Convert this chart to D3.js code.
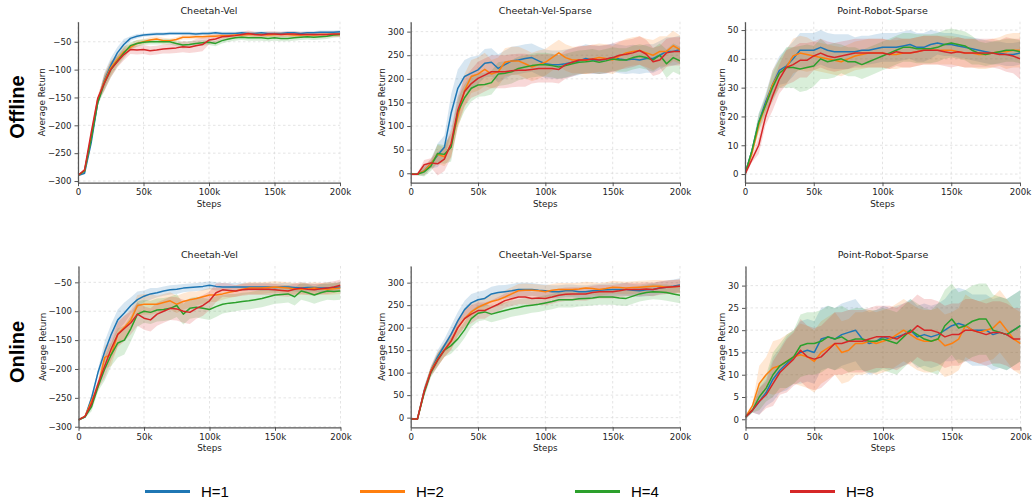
<!DOCTYPE html>
<html>
<head>
<meta charset="utf-8">
<script src="https://cdn.jsdelivr.net/npm/d3@7"></script>
<style>
  body { margin: 0; background: #fff; }
  svg { display: block; font-family: "DejaVu Sans", sans-serif; }
</style>
</head>
<body>
<svg id="chart" width="1032" height="501"></svg>
<script>
// series labels and colours
var seriesNames = ["H=1", "H=2", "H=4", "H=8"];
var colors = ["#1f77b4", "#ff7f0e", "#2ca02c", "#d62728"];

// x: training steps, one value every 5k (41 points); spreads are given every 10k
var steps = d3.range(0, 200001, 5000);
var xTicks = [0, 50000, 100000, 150000, 200000];

// ---- Offline / Cheetah-Vel (mean, order H=1,2,4,8)
var offVelMean = [
  [-290,-286,-232,-160,-120,-93,-70,-55,-44,-40,-38,-37,-36,-36,-35,-35,-35,-35,-36,-35,-35,-34,-35,-35,-35,-34,-35,-35,-34,-35,-35,-35,-34,-34,-35,-34,-34,-33,-33,-33,-32],
  [-290,-282,-222,-155,-122,-97,-82,-68,-60,-53,-50,-47,-45,-48,-48,-46,-42,-42,-41,-41,-40,-40,-39,-39,-38,-38,-37,-37,-37,-38,-37,-37,-37,-38,-38,-37,-38,-37,-37,-37,-37],
  [-290,-282,-225,-160,-125,-100,-85,-70,-57,-53,-51,-50,-50,-50,-50,-53,-56,-55,-53,-52,-51,-53,-48,-45,-43,-42,-43,-43,-43,-44,-43,-44,-44,-43,-42,-41,-42,-41,-40,-38,-37],
  [-290,-280,-214,-152,-125,-100,-86,-73,-64,-65,-64,-66,-65,-63,-62,-61,-59,-60,-57,-55,-47,-45,-41,-40,-39,-37,-35,-37,-38,-36,-36,-37,-36,-36,-37,-37,-37,-37,-37,-36,-36]
];
var offVelSpread = [
  [2,4,14,10,4,3,3,3,3,3,3,3,3,3,3,3,3,3,3,3,3],
  [2,5,14,10,6,5,5,4,4,4,4,4,4,4,4,4,4,4,4,4,4],
  [2,5,14,10,6,5,5,5,6,5,5,5,5,5,5,5,5,5,5,5,5],
  [2,5,14,10,8,8,8,9,10,12,8,6,5,5,5,5,5,5,5,5,5]
];

// ---- Offline / Cheetah-Vel-Sparse
var offSparseMean = [
  [-2,-2,5,20,38,55,127,180,205,212,219,233,235,222,230,238,240,243,245,238,232,230,230,232,235,238,243,240,240,241,245,242,240,242,240,243,243,250,258,258,262],
  [-2,-2,5,20,40,35,60,120,175,205,210,220,210,215,235,238,238,232,225,230,235,245,255,245,240,240,240,242,245,243,240,248,255,258,260,255,250,258,258,270,262],
  [-2,-2,3,15,42,40,55,130,160,180,187,188,192,210,212,215,222,225,228,230,230,228,225,228,232,235,236,238,235,238,242,240,240,245,248,245,240,250,232,245,238],
  [-2,-2,18,22,20,30,63,134,173,190,201,208,215,215,215,217,218,218,220,222,222,222,220,230,235,240,240,242,240,242,245,250,252,255,260,252,236,240,255,258,258]
];
var offSparseSpread = [
  [2,10,25,40,35,30,30,30,30,30,30,30,30,30,30,30,30,30,30,30,30],
  [2,10,20,25,35,35,30,30,30,30,28,28,28,30,30,30,30,30,32,32,30],
  [2,10,20,30,28,25,25,25,25,25,25,25,25,25,25,25,25,25,25,30,30],
  [2,10,25,30,30,35,35,35,35,30,30,30,30,30,30,30,30,30,30,30,30]
];

// ---- Offline / Point-Robot-Sparse
var offPointMean = [
  [0,8,18,25,31,36,37.5,40,43,43,43,44,43,42.5,42.5,42.5,42.5,43,43,43.5,44,44,44,44.5,45,44,44,45,45.5,45,45,44.5,44,43.5,43,42.5,42,42,41.5,41.5,42],
  [0,7,17,24,31,35,37,41,42,41.5,41,40.5,40,39.5,39,40,41,41.5,42,42,42,41.5,41.5,42,42,42.5,43,43,43,43,43,42.5,42,42,41.5,41.5,42,42.5,42.5,43,43],
  [0,8,18,24,30,35,37,37,36.5,37,37.5,40,39,39.5,40,39,39,38,39,40,41,42,43,44,44,43.5,43.5,43.5,44,45,45.5,45,44.5,43,42,41.5,42,42.5,43,43,42.5],
  [0,5,10,20,27,33,37,38,39.5,39.5,41,42,41,40.5,41,41.5,42,42,42,42,42,41.5,42.5,42,42,42.5,43,43,43,42.5,42,42.5,42,42,42,42,42,41.5,41.5,41,40]
];
var offPointSpread = [
  [1,3,5,6,6,6,6,6,5,5,5,5,5,5,4,4,4,4,4,4,4],
  [1,3,5,6,6,5,5,5,5,5,5,5,5,5,5,5,5,5,5,6,6],
  [1,3,5,7,8,7,6,5,5,5,5,5,5,5,5,5,5,4,4,4,4],
  [1,3,5,6,6,5,5,5,5,5,5,5,5,5,5,5,5,5,5,6,7]
];

// ---- Online / Cheetah-Vel
var onVelMean = [
  [-288,-283,-250,-205,-170,-140,-115,-103,-90,-80,-74,-70,-68,-65,-63,-62,-60,-59,-58,-57,-55,-57,-58,-58,-58,-58,-58,-58,-58,-58,-59,-58,-58,-59,-60,-59,-59,-60,-60,-59,-58],
  [-288,-282,-255,-230,-180,-175,-140,-128,-115,-90,-88,-88,-88,-85,-82,-88,-83,-80,-78,-75,-72,-72,-70,-67,-65,-62,-60,-60,-60,-59,-58,-59,-60,-61,-62,-61,-60,-61,-62,-61,-60],
  [-288,-283,-265,-230,-200,-175,-155,-150,-130,-105,-100,-102,-98,-97,-95,-90,-105,-95,-93,-95,-97,-92,-88,-86,-85,-83,-82,-80,-78,-75,-72,-71,-70,-75,-65,-68,-72,-68,-65,-66,-65],
  [-288,-282,-260,-225,-195,-165,-140,-130,-120,-105,-112,-115,-105,-100,-95,-96,-100,-102,-95,-90,-82,-68,-63,-64,-65,-63,-62,-62,-62,-62,-63,-64,-65,-62,-60,-62,-63,-61,-60,-58,-55]
];
var onVelSpread = [
  [2,6,18,18,14,10,8,8,7,7,7,7,7,7,7,7,7,7,7,7,8],
  [2,8,20,20,18,18,15,15,14,12,12,10,10,10,10,10,10,10,10,10,10],
  [2,8,20,25,22,20,20,20,18,18,18,16,15,15,15,15,15,15,15,15,15],
  [2,8,20,22,20,20,20,20,20,18,16,12,10,10,10,10,10,10,10,10,10]
];

// ---- Online / Cheetah-Vel-Sparse
var onSparseMean = [
  [-3,-3,60,105,135,160,185,215,240,255,262,265,275,278,280,282,285,285,285,283,282,280,280,282,282,280,280,282,283,284,285,285,285,283,282,284,285,288,290,292,295],
  [-3,-3,58,105,130,150,170,200,220,235,245,252,258,262,268,275,282,283,283,282,280,283,285,285,285,286,288,287,285,287,290,289,288,289,290,291,292,292,290,291,292],
  [-3,-3,55,100,128,150,160,175,195,220,232,235,230,234,238,242,245,248,250,252,255,258,262,262,262,264,265,266,268,268,268,266,265,270,275,278,280,279,278,275,272],
  [-3,-3,58,102,128,150,170,200,220,230,238,238,245,252,260,264,268,268,265,266,265,268,272,274,275,275,275,278,280,280,280,282,285,285,285,286,285,288,290,291,292]
];
var onSparseSpread = [
  [2,10,15,20,20,18,16,15,15,14,14,14,14,14,14,14,14,14,14,15,15],
  [2,10,15,18,18,16,15,15,15,14,14,14,14,14,14,14,14,14,14,15,15],
  [2,10,15,18,18,18,18,18,18,17,17,17,17,17,17,17,17,17,17,18,18],
  [2,10,15,20,20,18,16,16,16,15,15,15,15,15,15,15,15,15,15,15,15]
];

// ---- Online / Point-Robot-Sparse
var onPointMean = [
  [0.5,2,4,6,9,11,12.5,14,15,15.5,15,18,18.5,18,19,19.5,20,18,17,17.5,18.5,18,18.5,19,20,18.5,19,18.5,19,20,21,21.5,21,20,20,20,19,19.5,19,20,21],
  [0.5,3,8,10,11.5,12,13,14,14.5,14,13,15,16,17,15,15.5,17,17,17.5,17,17.5,18,19,20,19,18,17.5,17.5,18,16.5,17,18,21,20,19.5,20,20.5,22,20,18,17],
  [0.5,2,5,7,10,12,13,14,16.5,17,17,17.5,18.5,18,18.5,17.5,18,18,17.5,17.5,18,17.5,17,18.5,20,19,18,17.5,18,21,22.5,20.5,21,22,22.5,22.5,20,19.5,19,20,21],
  [0.5,2,4,5.5,8,10.5,12,13.5,15.5,14,13.5,14,15.5,17,17,17.5,17.5,17.5,18,18.5,18.5,18.5,18,19,19.5,21,20,20,19.5,18.5,19,19,20,20,19.5,19,19.5,19.5,19,18,18]
];
var onPointSpread = [
  [0.5,3,5,6,7,7,7,7,7,7,7,7,7,7,7,8,8,8,8,8,8],
  [0.5,4,6,6,7,7,7,7,7,7,7,7,7,7,7,7,7,7,7,7,7],
  [0.5,3,5,6,7,7,7,7,7,7,7,7,7,7,8,8,8,8,8,8,8],
  [0.5,3,5,6,7,7,7,7,7,7,7,7,7,7,7,7,7,7,7,7,7]
];

// tick values
var velTicks = [-300, -250, -200, -150, -100, -50];
var sparseTicks = [0, 50, 100, 150, 200, 250, 300];
var offPointTicks = [0, 10, 20, 30, 40, 50];
var onPointTicks = [0, 5, 10, 15, 20, 25, 30];

var svg = d3.select("#chart");

// panel layout: [left, top, right, bottom] in pixels
var panels = [
  { title: "Cheetah-Vel", box: [78, 21.7, 340, 182.7], yDom: [-303, -14], yTicks: velTicks, mean: offVelMean, spread: offVelSpread, labOff: 36 },
  { title: "Cheetah-Vel-Sparse", box: [410.7, 21.7, 680, 182.7], yDom: [-20, 321], yTicks: sparseTicks, mean: offSparseMean, spread: offSparseSpread, labOff: 29 },
  { title: "Point-Robot-Sparse", box: [745, 21.7, 1020, 182.7], yDom: [-3, 52.9], yTicks: offPointTicks, mean: offPointMean, spread: offPointSpread, labOff: 23.3 },
  { title: "Cheetah-Vel", box: [78.5, 266, 340.5, 427.3], yDom: [-301, -21.7], yTicks: velTicks, mean: onVelMean, spread: onVelSpread, labOff: 36 },
  { title: "Cheetah-Vel-Sparse", box: [410.7, 266, 680, 427.3], yDom: [-21.5, 337], yTicks: sparseTicks, mean: onSparseMean, spread: onSparseSpread, labOff: 29 },
  { title: "Point-Robot-Sparse", box: [745.5, 266, 1020.5, 427.3], yDom: [-1.8, 34.4], yTicks: onPointTicks, mean: onPointMean, spread: onPointSpread, labOff: 23.5 }
];

panels.forEach(function (p, pi) {
  var L = p.box[0], T = p.box[1], R = p.box[2], B = p.box[3];
  var x = d3.scaleLinear().domain([0, 200000]).range([L, R]);
  var y = d3.scaleLinear().domain(p.yDom).range([B, T]);
  var g = svg.append("g");

  g.append("clipPath").attr("id", "clip" + pi)
    .append("rect").attr("x", L).attr("y", T).attr("width", R - L).attr("height", B - T);

  // dashed grid
  g.selectAll(".gx").data(xTicks).join("line")
    .attr("x1", d => x(d)).attr("x2", d => x(d)).attr("y1", T).attr("y2", B)
    .attr("stroke", "#d9d9d9").attr("stroke-width", 0.7).attr("stroke-dasharray", "2.5,2.5");
  g.selectAll(".gy").data(p.yTicks).join("line")
    .attr("x1", L).attr("x2", R).attr("y1", d => y(d)).attr("y2", d => y(d))
    .attr("stroke", "#d9d9d9").attr("stroke-width", 0.7).attr("stroke-dasharray", "2.5,2.5");

  var plot = g.append("g").attr("clip-path", "url(#clip" + pi + ")");

  // shaded bands
  p.mean.forEach(function (m, k) {
    var sd = p.spread[k];
    var area = d3.area()
      .x((d, i) => x(steps[i]))
      .y0((d, i) => y(d - sd[Math.floor(i / 2)]))
      .y1((d, i) => y(d + sd[Math.floor(i / 2)]));
    plot.append("path").datum(m).attr("d", area)
      .attr("fill", colors[k]).attr("fill-opacity", 0.18).attr("stroke", "none");
  });

  // mean lines
  p.mean.forEach(function (m, k) {
    var line = d3.line().x((d, i) => x(steps[i])).y(d => y(d));
    plot.append("path").datum(m).attr("d", line)
      .attr("fill", "none").attr("stroke", colors[k]).attr("stroke-width", 1.5)
      .attr("stroke-linejoin", "round");
  });

  // axes
  var xAxis = d3.axisBottom(x).tickValues(xTicks)
    .tickFormat(d => d === 0 ? "0" : (d / 1000) + "k")
    .tickSize(3.5).tickSizeOuter(0).tickPadding(3);
  var gx = g.append("g").attr("transform", "translate(0," + B + ")").call(xAxis);
  var yAxis = d3.axisLeft(y).tickValues(p.yTicks)
    .tickSize(3.5).tickSizeOuter(0).tickPadding(3);
  var gy = g.append("g").attr("transform", "translate(" + L + ",0)").call(yAxis);
  [gx, gy].forEach(function (a) {
    a.attr("font-family", "DejaVu Sans, sans-serif").attr("font-size", 8.6);
    a.select(".domain").attr("stroke", "#555").attr("stroke-width", 1.25);
    a.selectAll(".tick line").attr("stroke", "#444").attr("stroke-width", 0.9);
    a.selectAll(".tick text").attr("fill", "#222");
  });

  // titles and axis labels
  g.append("text").attr("x", (L + R) / 2).attr("y", T - 8)
    .attr("text-anchor", "middle").attr("font-size", 9.5).attr("fill", "#222")
    .text(p.title);
  g.append("text").attr("x", (L + R) / 2).attr("y", B + 24)
    .attr("text-anchor", "middle").attr("font-size", 8.8).attr("fill", "#222")
    .text("Steps");
  g.append("text")
    .attr("transform", "translate(" + (L - p.labOff) + "," + ((T + B) / 2) + ") rotate(-90)")
    .attr("text-anchor", "middle").attr("dy", "0.35em")
    .attr("font-size", 8.8).attr("fill", "#222")
    .text("Average Return");
});

// row labels
var rowLabels = ["Offline", "Online"];
var rowCenters = [107, 352];
rowLabels.forEach(function (r, i) {
  svg.append("text")
    .attr("transform", "translate(17," + rowCenters[i] + ") rotate(-90)")
    .attr("text-anchor", "middle").attr("dy", "0.35em")
    .attr("font-family", "Liberation Sans, Arial, sans-serif")
    .attr("font-weight", "bold").attr("font-size", 20).attr("fill", "#000")
    .text(r);
});

// legend
var legendX = [145, 360, 575, 790];
var legend = svg.append("g").selectAll("g").data(seriesNames).join("g")
  .attr("transform", (d, i) => "translate(" + legendX[i] + ",491.5)");
legend.append("line").attr("x1", 0).attr("x2", 45)
  .attr("stroke", (d, i) => colors[i]).attr("stroke-width", 3);
legend.append("text").attr("x", 56).attr("dy", "0.36em")
  .attr("font-family", "Liberation Sans, Arial, sans-serif").attr("font-size", 15)
  .attr("fill", "#000")
  .text(d => d);
</script>
</body>
</html>
